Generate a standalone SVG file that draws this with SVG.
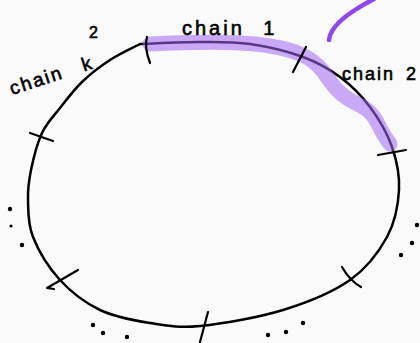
<svg xmlns="http://www.w3.org/2000/svg" width="420" height="343" viewBox="0 0 420 343">
<style>
.ink{fill:none;stroke:#000;stroke-width:2.5;stroke-linecap:round;stroke-linejoin:round}
.tick{fill:none;stroke:#000;stroke-width:2.2;stroke-linecap:round;stroke-linejoin:round}
.dot{fill:#000}
.lbl{font-family:"Liberation Sans","DejaVu Sans",sans-serif;fill:#000;stroke:#000;stroke-width:0.6}
</style>
<rect width="420" height="343" fill="#fafafa"/>
<g id="loop">
<path class="ink" d="M140,44 C150,43.7 181.7,42 200,42 C218.3,42 232.8,41.5 250,44 C267.2,46.5 288,51.5 303,57 C318,62.5 328.8,68.7 340,77 C351.2,85.3 361.3,95.3 370,107 C378.7,118.7 387.2,133.2 392,147 C396.8,160.8 399.8,175 399,190 C398.2,205 395.2,222 387,237 C378.8,252 367.3,267.8 350,280 C332.7,292.2 308,302.3 283,310 C258,317.7 222.2,323.8 200,326 C177.8,328.2 166.7,325.7 150,323 C133.3,320.3 115,317.2 100,310 C85,302.8 71.2,292.2 60,280 C48.8,267.8 38.3,250.3 33,237 C27.7,223.7 28.3,211.2 28,200 C27.7,188.8 28.7,181.2 31,170 C33.3,158.8 37.2,143.3 42,133 C46.8,122.7 53.3,116.5 60,108 C66.7,99.5 73.7,90 82,82 C90.3,74 100.3,66.3 110,60 C119.7,53.7 135,46.7 140,44"/>
</g>
<g id="highlight">
<path d="M150,44 C190,42 240,41 270,46 C295,50 310,56 322,70 C332,84 338,94 352,101 C366,108 372,112 378,124 C383,134 387,140 390,144" fill="none" stroke="rgb(160,100,240)" stroke-opacity="0.55" stroke-width="15" stroke-linecap="round" stroke-linejoin="round"/>
</g>
<g id="ticks">
<path class="tick" d="M147,37 Q144,47 150,63"/>
<path class="tick" d="M306,47 L293,72"/>
<path class="tick" d="M378,155 L406,150"/>
<path class="tick" d="M30,133 L53,141"/>
<path class="tick" d="M78,270 L47,288 L54,289"/>
<path class="tick" d="M208,312 L200,342"/>
<path class="tick" d="M342,267 Q350,281 361,287"/>
</g>
<g id="dots">
<circle class="dot" cx="10" cy="209" r="2.2"/>
<circle class="dot" cx="11" cy="226" r="1.6"/>
<circle class="dot" cx="22" cy="245" r="2.2"/>
<circle class="dot" cx="93" cy="325" r="2.2"/>
<circle class="dot" cx="103" cy="333" r="2.2"/>
<circle class="dot" cx="127" cy="337" r="2.2"/>
<circle class="dot" cx="268" cy="335" r="2.2"/>
<circle class="dot" cx="286" cy="332" r="2.2"/>
<circle class="dot" cx="303" cy="323" r="2.2"/>
<circle class="dot" cx="417" cy="225" r="2.2"/>
<circle class="dot" cx="412" cy="243" r="2.2"/>
<circle class="dot" cx="401" cy="255" r="2.2"/>
</g>
<g id="pen-stroke">
<path d="M329,40 C330,28 345,14 374,-1" fill="none" stroke="#9147f0" stroke-width="4.5" stroke-linecap="round"/>
</g>
<g id="labels">
<text class="lbl" x="182" y="35" font-size="20" letter-spacing="3" word-spacing="10">chain 1</text>
<text class="lbl" x="342" y="80" font-size="18" letter-spacing="2" word-spacing="4">chain 2</text>
<text class="lbl" transform="translate(12,95) rotate(-18)" font-size="19" letter-spacing="2" word-spacing="13">chain k</text>
<text class="lbl" x="89" y="38" font-size="16">2</text>
</g>
</svg>
